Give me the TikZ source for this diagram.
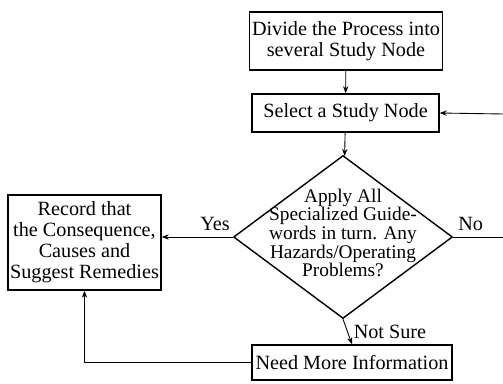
\documentclass[tikz,border=0pt]{standalone}
\usepackage{fontspec}
\setmainfont{Liberation Serif}
\usetikzlibrary{shapes.geometric,arrows.meta}

\begin{document}
\begin{tikzpicture}[x=0.02cm,y=-0.02cm,
    >={Stealth[length=4pt,width=3pt]},
    box/.style={draw,line width=0.8pt,inner sep=1pt,align=center,font=\fontsize{11.5}{12}\selectfont},
    link/.style={line width=0.5pt},
    lbl/.style={font=\fontsize{11.5}{12}\selectfont}]

    \useasboundingbox (0,0) rectangle (503,384);

    % Process boxes
    \node[box,minimum width=3.86cm,minimum height=1.16cm] (divide) at (346,41) {Divide the Process into\\several Study Node};
    \node[box,minimum width=3.74cm,minimum height=0.76cm] (select) at (345.5,113) {Select a Study Node};
    \node[box,minimum width=3.06cm,minimum height=1.9cm] (record) at (84.5,242.5) {Record that\\the Consequence,\\Causes and\\Suggest Remedies};
    \node[box,minimum width=4.0cm,minimum height=0.7cm] (need) at (352,362.5) {Need More Information};

    % Decision diamond
    \node[diamond,draw,line width=0.8pt,inner sep=0pt,minimum width=4.38cm,minimum height=3.26cm] (apply) at (343,237) {};
    \node[align=center,font=\fontsize{11}{10.6}\selectfont] (applytxt) at (343,233) {Apply All\\Specialized Guide-\\words in turn. Any\\Hazards/Operating\\Problems?};

    % Loose ends at the right border
    \coordinate (noout) at (503,237);
    \coordinate (loopin) at (503,114);

    % Connectors
    \draw[link,->] (divide) -- (select);
    \draw[link,->] (select) -- (apply);
    \draw[link,->] (apply.west) -- (record.east |- apply.west) node[lbl,pos=0.25,above] (yes) {Yes};
    \draw[link] (apply.east) -- (noout) node[lbl,pos=0.35,above] (no) {No};
    \draw[link,->] (loopin) -- (select.east);
    \draw[link,->] (apply.south) -- (need.north) node[lbl,midway,right] (notsure) {Not Sure};
    \draw[link,->] (need.west) -| (record.south);
\end{tikzpicture}
\end{document}
